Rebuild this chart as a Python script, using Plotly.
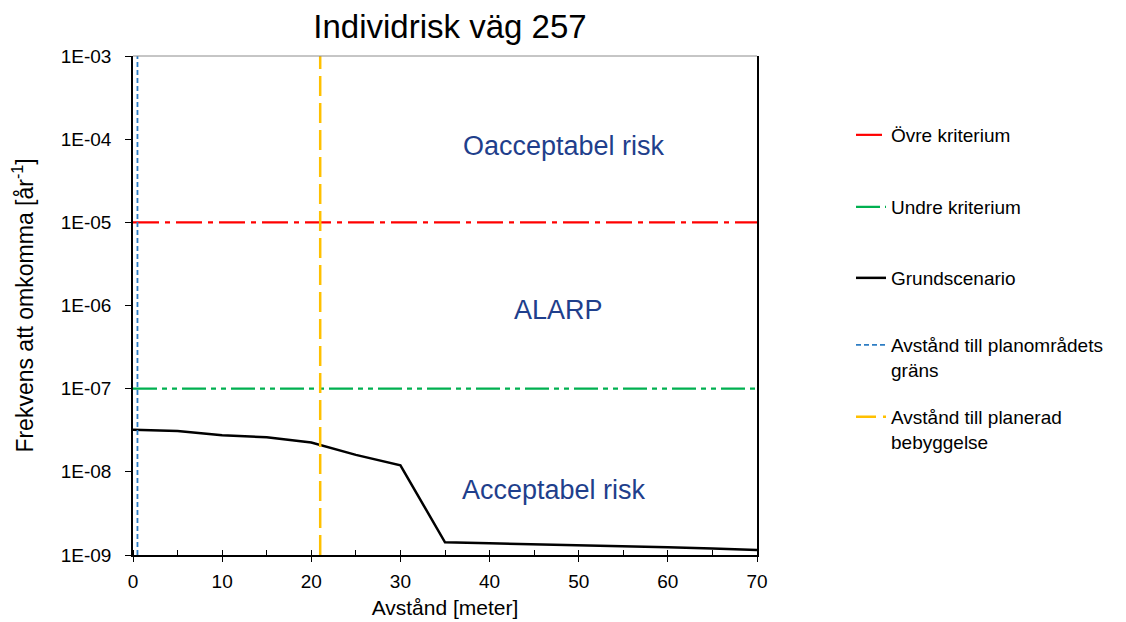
import plotly.graph_objects as go

# Data
distance = [0, 5, 10, 15, 20, 25, 30, 35, 40, 45, 50, 55, 60, 65, 70]
grundscenario = [3.2e-8, 3.1e-8, 2.75e-8, 2.6e-8, 2.25e-8, 1.6e-8, 1.2e-8,
                 1.42e-9, 1.38e-9, 1.35e-9, 1.31e-9, 1.28e-9, 1.24e-9, 1.2e-9, 1.15e-9]
ovre_x = [0, 70]
ovre_y = [1e-5, 1e-5]
undre_x = [0, 70]
undre_y = [1e-7, 1e-7]
plangrans_x = [0.5, 0.5]
planerad_x = [21, 21]
vertical_y = [1e-9, 1e-3]
ytick_vals = [1e-9, 1e-8, 1e-7, 1e-6, 1e-5, 1e-4, 1e-3]
ytick_text = ["1E-09", "1E-08", "1E-07", "1E-06", "1E-05", "1E-04", "1E-03"]
zone_labels = ["Oacceptabel risk", "ALARP", "Acceptabel risk"]
zone_x = [48.4, 47.7, 47.2]
zone_logy = [-4.08, -6.05, -8.22]
series_names = ["Övre kriterium", "Undre kriterium", "Grundscenario",
                "Avstånd till planområdets<br>gräns", "Avstånd till planerad<br>bebyggelse"]

FONT = "Liberation Sans, Arial, sans-serif"

fig = go.Figure()
fig.add_trace(go.Scatter(x=ovre_x, y=ovre_y, mode="lines", name=series_names[0],
                         legend="legend",
                         line=dict(color="#FF0000", width=2.2, dash="26px,6px,5px,6px")))
fig.add_trace(go.Scatter(x=undre_x, y=undre_y, mode="lines", name=series_names[1],
                         legend="legend2",
                         line=dict(color="#00B050", width=2.2, dash="24px,5px,5px,5px,5px,5px")))
fig.add_trace(go.Scatter(x=distance, y=grundscenario, mode="lines", name=series_names[2],
                         legend="legend3",
                         line=dict(color="#000000", width=2.5)))
fig.add_trace(go.Scatter(x=plangrans_x, y=vertical_y, mode="lines", name=series_names[3],
                         legend="legend4",
                         line=dict(color="#2E7DC4", width=1.8, dash="5px,3px")))
fig.add_trace(go.Scatter(x=planerad_x, y=vertical_y, mode="lines", name=series_names[4],
                         legend="legend5",
                         line=dict(color="#FFC000", width=2.5, dash="20px,7px")))

for t, xv, yv in zip(zone_labels, zone_x, zone_logy):
    fig.add_annotation(x=xv, y=yv, text=t, showarrow=False,
                       font=dict(family=FONT, size=27, color="#1F3F8C"))

# thin grey top border of plot area
fig.add_shape(type="line", xref="paper", yref="paper", x0=0, x1=1, y0=1, y1=1,
              line=dict(color="#8C8C8C", width=1))

def legend_at(center_px):
    top = center_px - 8 - 19
    return dict(x=(843 - 125) / 624, xanchor="left", y=(547 - top) / 499, yanchor="top",
                font=dict(family=FONT, size=19, color="#000000"),
                valign="top", bgcolor="rgba(0,0,0,0)")

fig.update_layout(
    width=1126, height=622,
    margin=dict(l=125, r=377, t=48, b=75, autoexpand=False),
    paper_bgcolor="white", plot_bgcolor="white",
    font=dict(family=FONT, color="#000000"),
    title=dict(text="Individrisk väg 257", x=442 / 1126, xanchor="center",
               y=1 - 18 / 622, yanchor="middle",
               font=dict(family=FONT, size=33, color="#000000")),
    showlegend=True,
    legend=legend_at(135),
    legend2=legend_at(207),
    legend3=legend_at(278),
    legend4=legend_at(345),
    legend5=legend_at(417),
    xaxis=dict(range=[0, 70], dtick=10, tick0=0, showgrid=False, zeroline=False,
               automargin=False,
               showline=True, linecolor="#000000", linewidth=1.5,
               ticks="outside", ticklen=5, tickcolor="#000000", ticklabelstandoff=3,
               minor=dict(dtick=5, ticks="inside", ticklen=5, tickcolor="#000000", showgrid=False),
               tickfont=dict(family=FONT, size=19, color="#000000"),
               title=dict(text="Avstånd [meter]", font=dict(family=FONT, size=21, color="#000000"),
                          standoff=10)),
    yaxis=dict(type="log", range=[-9, -3], tickvals=ytick_vals, ticktext=ytick_text,
               automargin=False,
               showgrid=False, zeroline=False, showline=True, linecolor="#000000",
               linewidth=1.5, mirror=True,
               ticks="outside", ticklen=6, tickcolor="#000000", ticklabelstandoff=10,
               tickfont=dict(family=FONT, size=19, color="#000000"),
               title=dict(text="Frekvens att omkomma [år<sup>-1</sup>]",
                          font=dict(family=FONT, size=23, color="#000000"), standoff=29)),
)

fig.write_html("out.html")
